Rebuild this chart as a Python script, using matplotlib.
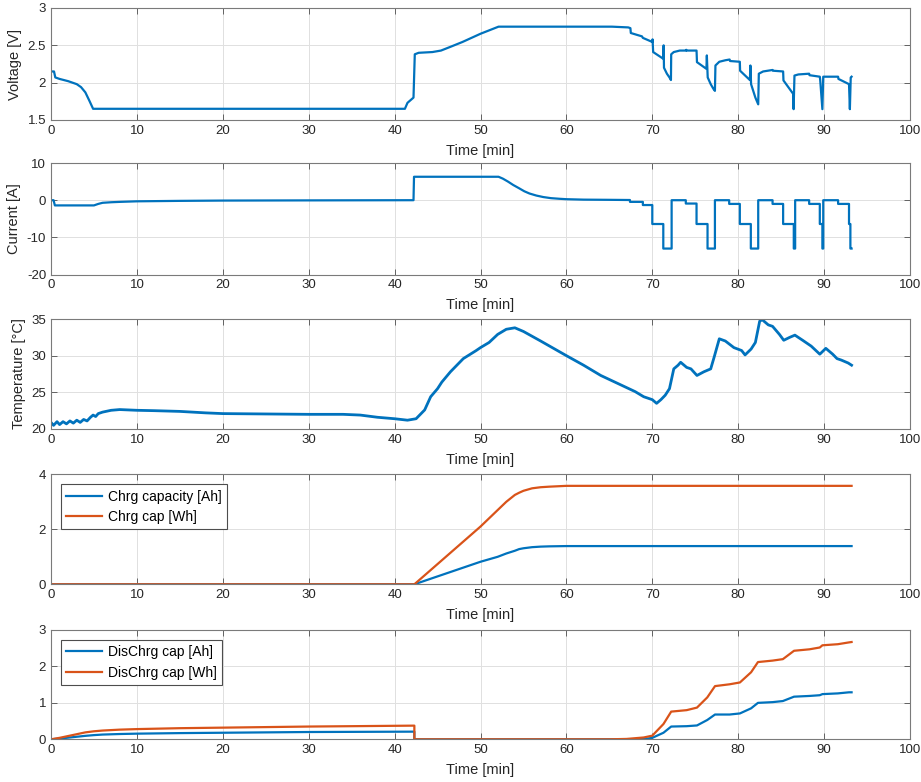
import numpy as np
import matplotlib
matplotlib.use("Agg")
from matplotlib import pyplot as plt
from matplotlib.ticker import FuncFormatter

# ---- data ----
# voltage
t_v = [0, 0.35, 0.5, 1.0, 2.0, 3.0, 3.5, 4.0, 4.5, 4.9,
       41.2, 41.5, 42.2, 42.35, 42.8, 44.4, 45.4, 46.5, 47.9, 50.0, 52.1,
       65.3, 67.2, 67.45, 67.5, 68.8, 68.9, 70.0, 70.03, 70.1, 71.28, 71.32, 71.36,
       71.7, 72.0, 72.17, 72.2, 72.5, 73.2, 73.9, 73.95, 74.0, 75.15,
       75.2, 76.3, 76.35, 76.45, 76.8, 77.1, 77.29, 77.35, 77.8, 78.5, 79.0, 79.05, 80.19,
       80.22, 81.36, 81.42, 81.5, 82.0, 82.33, 82.4, 82.9, 84.0, 84.05, 85.23,
       85.27, 86.4, 86.45, 86.55, 87.0, 88.26, 88.3, 89.5,
       89.55, 89.8, 89.9, 91.63, 91.67, 92.9, 93.0, 93.1, 93.2]
volt = [2.15, 2.15, 2.07, 2.05, 2.02, 1.98, 1.94, 1.87, 1.75, 1.65,
        1.65, 1.73, 1.80, 2.38, 2.40, 2.41, 2.43, 2.48, 2.545, 2.655, 2.75,
        2.75, 2.74, 2.73, 2.665, 2.62, 2.60, 2.545, 2.58, 2.41, 2.32, 2.50, 2.20,
        2.12, 2.07, 2.035, 2.38, 2.41, 2.43, 2.43, 2.44, 2.43, 2.43,
        2.275, 2.185, 2.365, 2.07, 1.98, 1.92, 1.89, 2.23, 2.28, 2.30, 2.31, 2.29, 2.28,
        2.16, 2.035, 2.23, 1.98, 1.80, 1.71, 2.12, 2.15, 2.17, 2.16, 2.15,
        2.03, 1.85, 1.645, 2.095, 2.11, 2.12, 2.10, 2.08,
        2.03, 1.645, 2.08, 2.08, 2.05, 1.98, 1.645, 2.07, 2.08]

# current
t_i = [0, 0.3, 0.45, 5.0, 5.5, 6.0, 7.0, 8.0, 10.0, 15.0, 20.0, 30.0, 42.2,
       42.26, 52.1, 52.6, 53.2, 53.8, 54.5, 55.1, 55.7, 56.5, 57.3, 58.2, 59.2,
       60.0, 62.0, 65.0, 67.4,
       67.4, 68.9, 68.9, 70.0, 70.0, 71.28, 71.28, 72.25, 72.25,
       73.9, 73.9, 75.15, 75.15, 76.43, 76.43, 77.29, 77.29,
       78.95, 78.95, 80.19, 80.19, 81.47, 81.47, 82.33, 82.33,
       84.0, 84.0, 85.23, 85.23, 86.47, 86.47, 86.63, 86.63,
       88.26, 88.26, 89.5, 89.5, 89.8, 89.8, 89.9, 89.9,
       91.63, 91.63, 92.9, 92.9, 93.06, 93.06, 93.2]
curr = [0, 0, -1.4, -1.4, -1.0, -0.7, -0.55, -0.45, -0.3, -0.18, -0.1, -0.05, 0,
        6.3, 6.3, 5.8, 5.0, 4.1, 3.2, 2.4, 1.8, 1.25, 0.85, 0.55, 0.38,
        0.27, 0.15, 0.1, 0.05,
        -0.45, -0.45, -1.3, -1.3, -6.4, -6.4, -13, -13, 0,
        0, -0.9, -0.9, -6.4, -6.4, -13, -13, 0,
        0, -1.0, -1.0, -6.4, -6.4, -13, -13, 0,
        0, -1.0, -1.0, -6.4, -6.4, -13, -13, 0,
        0, -1.0, -1.0, -6.4, -6.4, -13, -13, 0,
        0, -1.0, -1.0, -6.4, -6.4, -13, -13]

# temperature
t_T = [0, 0.3, 0.7, 1.0, 1.4, 1.8, 2.2, 2.6, 3.0, 3.4, 3.8, 4.2, 4.6, 4.9, 5.2,
       5.5, 6, 7, 8, 9, 10, 12, 15, 18, 20, 25, 30, 34, 36, 38, 40, 41.5,
       42.5, 43.5, 44.2, 45, 45.5, 46.5, 48, 49.5, 50, 51, 52, 53, 54, 55, 57,
       60, 62, 64, 66, 68, 69, 70, 70.5, 71, 71.5, 72, 72.5, 73, 73.3, 74,
       74.5, 75.2, 76, 76.8, 77.2, 77.8, 78.5, 79.5, 80.4, 80.8, 81.5, 82.0,
       82.5, 82.8, 83.5, 84.0, 84.8, 85.3, 86, 86.6, 87.5, 88.5, 89.5, 90.2,
       91, 91.5, 92, 92.8, 93.2]
temp = [20.9, 20.5, 21.0, 20.6, 21.0, 20.7, 21.1, 20.8, 21.2, 20.9, 21.3, 21.1, 21.6, 21.9, 21.7,
        22.1, 22.3, 22.55, 22.65, 22.6, 22.55, 22.5, 22.4, 22.2, 22.1, 22.05, 22.0, 22.0, 21.9, 21.6, 21.4, 21.2,
        21.4, 22.6, 24.4, 25.5, 26.4, 27.8, 29.6, 30.7, 31.1, 31.8, 32.9, 33.6, 33.8, 33.3, 32.0,
        30.0, 28.7, 27.3, 26.2, 25.1, 24.4, 24.0, 23.5, 24.0, 24.6, 25.5, 28.2, 28.7, 29.1, 28.4,
        28.2, 27.3, 27.8, 28.2, 29.8, 32.3, 32.0, 31.1, 30.7, 30.1, 30.9, 31.8,
        34.7, 34.9, 34.2, 34.0, 32.9, 32.1, 32.5, 32.8, 32.1, 31.3, 30.2, 31.0,
        30.2, 29.6, 29.4, 29.0, 28.7]

# charge capacity
t_chg = [0, 42.3, 50, 52, 53, 54, 54.5, 55, 56, 57, 58, 60, 93.2]
chg_ah = [0, 0, 0.82, 1.0, 1.12, 1.22, 1.28, 1.31, 1.35, 1.37, 1.38, 1.39, 1.39]
chg_wh = [0, 0, 2.10, 2.7, 3.0, 3.25, 3.33, 3.40, 3.49, 3.53, 3.55, 3.58, 3.58]

# discharge capacity
t_dis = [0, 1, 2, 3, 4, 5, 6, 8, 10, 15, 20, 30, 42.3, 42.3, 65, 67, 69, 70, 71.3,
         72.2, 74, 75.2, 76.4, 77.3, 79, 80.2, 81.5, 82.3, 84, 85.2, 86.5, 88.3,
         89.5, 89.8, 91.6, 92.9, 93.2]
dis_ah = [0, 0.02, 0.045, 0.07, 0.095, 0.115, 0.13, 0.145, 0.155, 0.17, 0.18, 0.2, 0.21, 0, 0, 0, 0.005, 0.04, 0.18,
          0.35, 0.36, 0.38, 0.53, 0.68, 0.68, 0.71, 0.85, 1.0, 1.02, 1.05, 1.17, 1.19,
          1.21, 1.24, 1.26, 1.29, 1.29]
dis_wh = [0, 0.04, 0.09, 0.14, 0.19, 0.22, 0.24, 0.265, 0.28, 0.305, 0.32, 0.35, 0.375, 0, 0, 0.01, 0.05, 0.1, 0.42,
          0.76, 0.8, 0.87, 1.15, 1.46, 1.51, 1.56, 1.84, 2.12, 2.16, 2.2, 2.43, 2.47,
          2.52, 2.58, 2.61, 2.66, 2.67]

blue = '#0072BD'
orange = '#D95319'

plt.rcParams['font.family'] = ['Liberation Sans', 'DejaVu Sans']

fig = plt.figure(figsize=(9.21, 7.82), dpi=100)
W, H = 921.0, 782.0
left, right = 51, 910
tops = [8, 163, 319, 474.3, 630]
bots = [120, 274.6, 429, 584.3, 739.3]

axes = []
for top, bot in zip(tops, bots):
    ax = fig.add_axes([left / W, 1 - bot / H, (right - left) / W, (bot - top) / H])
    axes.append(ax)

fmt = FuncFormatter(lambda v, p: '{:g}'.format(v))

def style(ax, ylim, yticks, ylabel=None):
    ax.set_xlim(0, 100)
    ax.set_xticks(np.arange(0, 101, 10))
    ax.set_ylim(*ylim)
    ax.set_yticks(yticks)
    ax.yaxis.set_major_formatter(fmt)
    ax.grid(True, color='#e0e0e0', linewidth=0.7)
    ax.set_axisbelow(True)
    ax.tick_params(direction='in', top=True, right=True, length=4, width=0.6,
                   colors='#4d4d4d', labelcolor='#262626', labelsize=9.5)
    for s in ax.spines.values():
        s.set_color('#7a7a7a')
        s.set_linewidth(0.8)
    ax.set_xlabel('Time [min]', fontsize=10.5, color='#262626', labelpad=5)
    if ylabel:
        ax.set_ylabel(ylabel, fontsize=10.5, color='#262626')

lw = 1.6
axes[0].plot(t_v, volt, color=blue, lw=lw)
style(axes[0], (1.5, 3), [1.5, 2, 2.5, 3], 'Voltage [V]')

axes[1].plot(t_i, curr, color=blue, lw=lw)
style(axes[1], (-20, 10), [-20, -10, 0, 10], 'Current [A]')

axes[2].plot(t_T, temp, color=blue, lw=2.0)
style(axes[2], (20, 35), [20, 25, 30, 35], 'Temperature [°C]')

axes[3].plot(t_chg, chg_ah, color=blue, lw=lw, label='Chrg capacity [Ah]')
axes[3].plot(t_chg, chg_wh, color=orange, lw=lw, label='Chrg cap [Wh]')
style(axes[3], (0, 4), [0, 2, 4])

axes[4].plot(t_dis, dis_ah, color=blue, lw=lw, label='DisChrg cap [Ah]')
axes[4].plot(t_dis, dis_wh, color=orange, lw=lw, label='DisChrg cap [Wh]')
style(axes[4], (0, 3), [0, 1, 2, 3])

for ax in axes[3:]:
    leg = ax.legend(loc='upper left', fontsize=10, fancybox=False, framealpha=1,
                    handlelength=2.6, borderaxespad=0.7, labelspacing=0.45,
                    borderpad=0.4, handletextpad=0.4)
    leg.get_frame().set_edgecolor('#4d4d4d')
    leg.get_frame().set_linewidth(0.8)

fig.savefig('out.png', dpi=100)
